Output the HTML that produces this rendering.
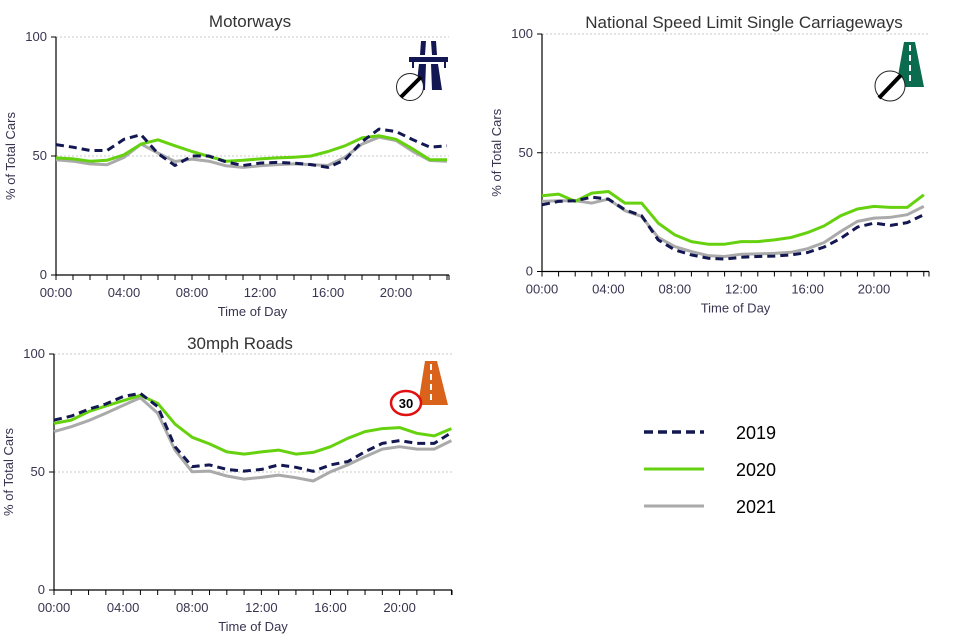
<!DOCTYPE html>
<html><head><meta charset="utf-8"><style>
body{margin:0;background:#fff;width:960px;height:640px;overflow:hidden;font-family:"Liberation Sans",sans-serif}
svg{position:absolute;left:0;top:0}
</style></head><body>
<svg id="c" width="960" height="640" viewBox="0 0 960 640">
  <g>
    <g><line x1="644" y1="432" x2="704" y2="432" stroke="#141852" stroke-width="3.5" stroke-dasharray="9,5"/><text x="736" y="439" font-size="18" fill="#000">2019</text></g>
    <g><line x1="644" y1="469" x2="704" y2="469" stroke="#66d10f" stroke-width="3"/><text x="736" y="476" font-size="18" fill="#000">2020</text></g>
    <g><line x1="644" y1="506" x2="704" y2="506" stroke="#aaaaaa" stroke-width="3"/><text x="736" y="513" font-size="18" fill="#000">2021</text></g>
  </g>
  <g>
    <rect x="409" y="57" width="39" height="5" fill="#141852"/>
    <polygon points="421,41 426,41 425,55 420,55" fill="#141852"/>
    <polygon points="431,41 436,41 437,55 432,55" fill="#141852"/>
    <polygon points="419,64 426,64 425,90 416,90" fill="#141852"/>
    <polygon points="431,64 438,64 442,90 432,90" fill="#141852"/>
    <rect x="412" y="62" width="2" height="6" fill="#141852"/><rect x="444" y="62" width="2" height="6" fill="#141852"/>
    <circle cx="410" cy="87" r="13.5" fill="#fff" stroke="#222" stroke-width="1"/>
    <line x1="401" y1="97" x2="421" y2="77" stroke="#000" stroke-width="4"/>
  </g>
  <g>
    <polygon points="904,42 915,42 924,87 896,87" fill="#0b6b4e"/>
    <line x1="910" y1="45" x2="910" y2="85" stroke="#fff" stroke-width="2" stroke-dasharray="6,4"/>
    <circle cx="890" cy="86" r="15" fill="#fff" stroke="#222" stroke-width="1"/>
    <line x1="879" y1="98" x2="901" y2="75" stroke="#000" stroke-width="4"/>
  </g>
  <g>
    <polygon points="425,361 437,361 448,405 418,405" fill="#d9631a"/>
    <line x1="431" y1="364" x2="431" y2="403" stroke="#fff" stroke-width="2" stroke-dasharray="6,4"/>
    <ellipse cx="406" cy="403" rx="15" ry="12" fill="#fff" stroke="#e01010" stroke-width="2.5"/>
    <text x="406" y="408" font-size="13" font-weight="bold" text-anchor="middle" fill="#000">30</text>
  </g>
</svg>
<script>
const hours = [0,1,2,3,4,5,6,7,8,9,10,11,12,13,14,15,16,17,18,19,20,21,22,23];
const xTickLabels = ["00:00","04:00","08:00","12:00","16:00","20:00"];
const yTicks = [0,50,100];
const motorways2019 = [54.8,53.7,52.3,52.3,57,59,51,46,50,50,47.5,46,47,47.3,47,46.4,45.2,48.4,56,61.3,60.3,56.8,53.7,54.3];
const motorways2020 = [49.2,48.8,47.8,48.2,50.5,55,56.8,54.3,51.9,49.8,47.8,48.2,48.8,49.2,49.5,50,51.9,54.3,57.6,58.5,57,52.9,48.4,48.4];
const motorways2021 = [48.4,47.8,46.7,46.3,49.4,55,51.2,47.7,48.7,47.8,45.9,45.2,45.9,46.4,46.7,46.4,46,49.5,55,57.9,56.5,51.9,48.1,47.8];
const nsl2019 = [28.1,29.5,29.8,31.3,30.5,26,23.5,13.3,9.1,7,5.6,5.2,6,6.3,6.5,7,8,10.3,14,18.7,20.4,19.4,20.6,23.9];
const nsl2020 = [31.9,32.6,29.5,33,33.7,28.8,28.8,20.4,15.4,12.6,11.5,11.5,12.6,12.6,13.3,14.3,16.4,19.2,23.5,26.3,27.4,27,27,32.3];
const nsl2021 = [29.5,29.8,29.8,28.8,30.5,25.6,23.2,14.3,10.5,8.4,6.7,6.3,7.3,7.4,7.6,8.1,9.6,12.2,16.9,21.1,22.5,22.8,23.9,27.4];
const r30_2019 = [72,73.7,76.6,78.8,82,83.3,77.7,60.7,52.3,53,51.1,50.4,51.1,53,52,50.3,53,54.4,58.6,62.1,63.3,62.1,62.1,66.7];
const r30_2020 = [70.6,72,75.6,78,80.2,82.5,79.1,70.3,64.7,61.9,58.5,57.6,58.5,59.3,57.6,58.3,60.7,64.3,67.1,68.4,68.8,66.4,65.3,68.4];
const r30_2021 = [67.1,69.2,71.8,74.9,78.2,81.5,74.9,59.3,50.1,50.4,48.3,47,47.7,48.7,47.6,46.2,50.1,53,56.5,59.7,60.7,59.7,59.7,63.3];

const NS="http://www.w3.org/2000/svg";
const svg=document.getElementById('c');
function mk(tag,attrs,parent){const e=document.createElementNS(NS,tag);for(const k in attrs)e.setAttribute(k,attrs[k]);parent.appendChild(e);return e;}

const panels=[
 {key:'motorways',title:'Motorways',tx:250,ty:27,x0:56,x1:449,xh:17,y0:275,y100:37,s:[motorways2019,motorways2020,motorways2021]},
 {key:'nsl',title:'National  Speed Limit Single Carriageways',tx:744,ty:28,x0:542,x1:929,xh:16.6,y0:271.5,y100:34,s:[nsl2019,nsl2020,nsl2021]},
 {key:'30mph',title:'30mph Roads',tx:240,ty:349,x0:54,x1:452,xh:17.28,y0:590,y100:354,s:[r30_2019,r30_2020,r30_2021]}
];
const styles=[{c:'#141852',w:3,d:'8,5',n:'2019'},{c:'#66d10f',w:3,d:null,n:'2020'},{c:'#aaaaaa',w:3,d:null,n:'2021'}];
const tc='#3a3450';
panels.forEach(p=>{
  const g=mk('g',{},svg);
  
  
  const xs=h=>p.x0+h*p.xh;
  const ys=v=>p.y0-(v/100)*(p.y0-p.y100);
  const t=mk('text',{x:p.tx,y:p.ty,'font-size':17,'text-anchor':'middle',fill:'#333'},g);t.textContent=p.title;
  
  
  yTicks.forEach(v=>{
    if(v>0){const gl=mk('line',{x1:p.x0,x2:p.x1,y1:ys(v),y2:ys(v),stroke:'#c8c8c8','stroke-width':1,'stroke-dasharray':'2,2'},g);
      
      }
    mk('line',{x1:p.x0-5,x2:p.x0,y1:ys(v),y2:ys(v),stroke:'#000'},g);
    const l=mk('text',{x:p.x0-9,y:ys(v)+4,'font-size':13,'text-anchor':'end',fill:tc},g);l.textContent=v;
    
    
  });
  const ax=mk('line',{x1:p.x0,x2:p.x0,y1:p.y100,y2:p.y0,stroke:'#000','stroke-width':1.2},g);
  
  
  const bx=mk('line',{x1:p.x0,x2:p.x1,y1:p.y0,y2:p.y0,stroke:'#000','stroke-width':1.2},g);
  
  
  hours.forEach(h=>{mk('line',{x1:xs(h),x2:xs(h),y1:p.y0,y2:p.y0+5,stroke:'#000'},g);});
  mk('line',{x1:p.x1,x2:p.x1,y1:p.y0,y2:p.y0+5,stroke:'#000'},g);
  xTickLabels.forEach((lab,i)=>{const l=mk('text',{x:xs(i*4),y:p.y0+22,'font-size':13,'text-anchor':'middle',fill:tc},g);l.textContent=lab;
    
    });
  const xt=mk('text',{x:(p.x0+p.x1)/2,y:p.y0+41,'font-size':13,'text-anchor':'middle',fill:tc},g);xt.textContent='Time of Day';
  
  
  const cy=(p.y0+p.y100)/2;
  const yt=mk('text',{x:0,y:0,'font-size':13,'text-anchor':'middle',fill:tc,transform:`translate(${p.x0-41},${cy}) rotate(-90)`},g);yt.textContent='% of Total Cars';
  
  
  [2,1,0].forEach(i=>{
    const st=styles[i];const arr=p.s[i];
    const pts=arr.map((v,h)=>xs(hours[h]).toFixed(1)+','+ys(v).toFixed(1)).join(' ');
    const a={points:pts,fill:'none',stroke:st.c,'stroke-width':st.w,'stroke-linejoin':'round'};
    if(st.d)a['stroke-dasharray']=st.d;
    const pl=mk('polyline',a,g);
    
    
  });
});
</script>
</body></html>
